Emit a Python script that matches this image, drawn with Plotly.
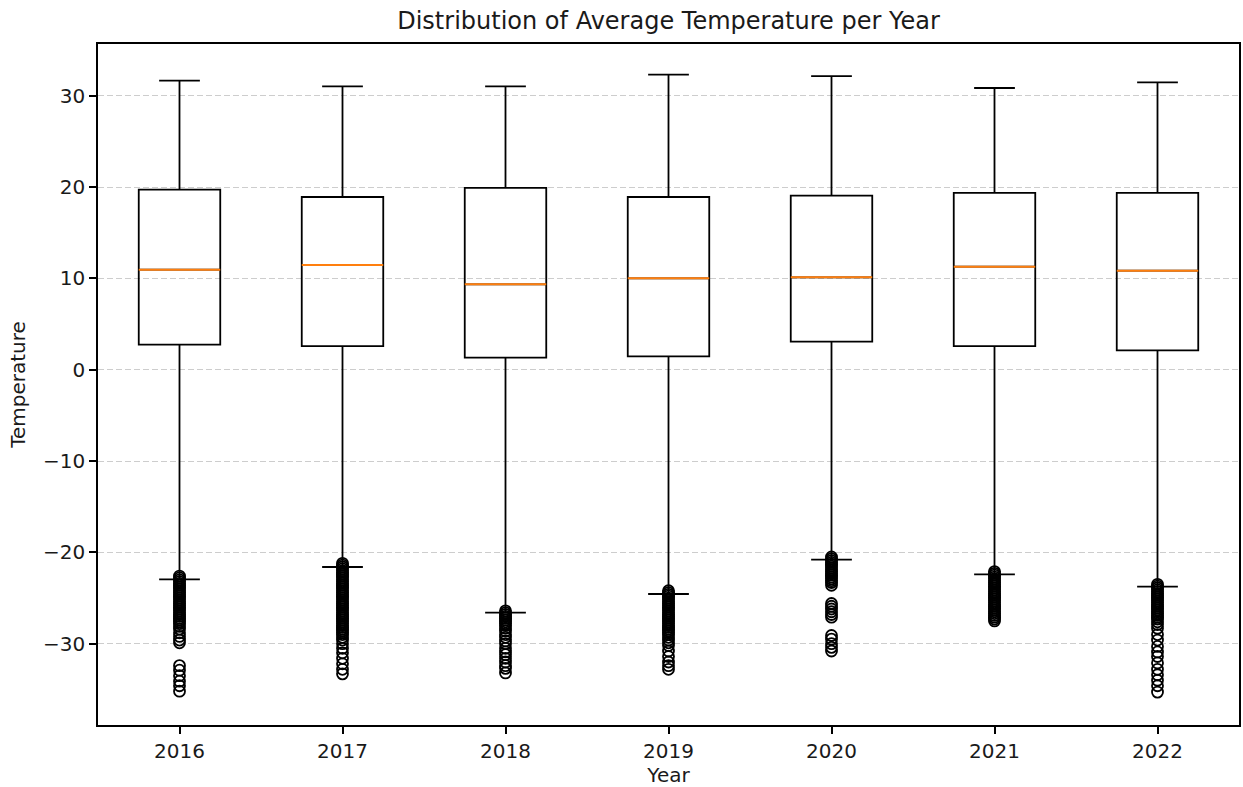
import plotly.graph_objects as go

years = ["2016", "2017", "2018", "2019", "2020", "2021", "2022"]
positions = [1, 2, 3, 4, 5, 6, 7]

q1 = [2.74, 2.59, 1.32, 1.46, 3.07, 2.59, 2.12]
median = [10.95, 11.46, 9.35, 10.0, 10.11, 11.28, 10.84]
q3 = [19.71, 18.91, 19.9, 18.91, 19.05, 19.35, 19.35]
upper_whisker = [31.64, 31.03, 31.03, 32.3, 32.15, 30.84, 31.46]
lower_whisker = [-22.95, -21.6, -26.6, -24.56, -20.8, -22.4, -23.76]

outliers_2016 = [-22.6, -22.8, -23.0, -23.2, -23.4, -23.6, -23.8, -24.0, -24.2, -24.4,
                 -24.6, -24.8, -25.0, -25.2, -25.4, -25.6, -25.8, -26.0, -26.2, -26.4,
                 -26.6, -26.8, -27.0, -27.2, -27.4, -27.6, -27.8, -28.1, -28.4, -28.8,
                 -29.2, -29.6, -29.9, -32.4, -32.9, -33.5, -34.1, -34.6, -35.2]
outliers_2017 = [-21.2, -21.4, -21.6, -21.8, -22.0, -22.2, -22.4, -22.6, -22.8, -23.0,
                 -23.2, -23.4, -23.6, -23.8, -24.0, -24.2, -24.4, -24.6, -24.8, -25.0,
                 -25.2, -25.4, -25.6, -25.8, -26.0, -26.2, -26.4, -26.6, -26.8, -27.0,
                 -27.2, -27.4, -27.6, -27.8, -28.0, -28.2, -28.4, -28.6, -28.8, -29.0,
                 -29.3, -29.6, -30.0, -30.5, -31.0, -31.6, -32.2, -32.8, -33.3]
outliers_2018 = [-26.4, -26.6, -26.8, -27.0, -27.2, -27.4, -27.6, -27.8, -28.0, -28.3,
                 -28.6, -29.0, -29.3, -29.7, -30.0, -30.5, -30.9, -31.2, -31.6, -32.0,
                 -32.4, -32.7, -33.2]
outliers_2019 = [-24.2, -24.4, -24.6, -24.8, -25.0, -25.2, -25.4, -25.6, -25.8, -26.0,
                 -26.2, -26.4, -26.6, -26.8, -27.0, -27.2, -27.4, -27.6, -27.8, -28.0,
                 -28.2, -28.4, -28.6, -28.8, -29.0, -29.3, -29.6, -29.9, -30.2, -30.8,
                 -31.4, -32.0, -32.4, -32.8]
outliers_2020 = [-20.5, -20.7, -20.9, -21.1, -21.3, -21.5, -21.7, -21.9, -22.1, -22.3,
                 -22.5, -22.7, -22.9, -23.1, -23.3, -23.6, -25.6, -25.9, -26.2, -26.5,
                 -26.8, -27.1, -29.1, -29.5, -30.0, -30.4, -30.8]
outliers_2021 = [-22.1, -22.3, -22.5, -22.7, -22.9, -23.1, -23.3, -23.5, -23.7, -23.9,
                 -24.1, -24.3, -24.5, -24.7, -24.9, -25.1, -25.3, -25.5, -25.7, -25.9,
                 -26.1, -26.3, -26.5, -26.7, -26.9, -27.1, -27.3, -27.5]
outliers_2022 = [-23.5, -23.7, -23.9, -24.1, -24.3, -24.5, -24.7, -24.9, -25.1, -25.3,
                 -25.5, -25.7, -25.9, -26.1, -26.3, -26.5, -26.7, -26.9, -27.1, -27.3,
                 -27.6, -27.9, -28.3, -29.0, -29.6, -30.3, -30.9, -31.4, -32.1, -32.8,
                 -33.4, -34.0, -34.6, -35.3]

outliers = [outliers_2016, outliers_2017, outliers_2018, outliers_2019,
            outliers_2020, outliers_2021, outliers_2022]

FONT = "DejaVu Sans"
TXT = "#1a1a1a"

fig = go.Figure()

fig.add_trace(go.Box(
    x=positions, q1=q1, median=median, q3=q3,
    lowerfence=lower_whisker, upperfence=upper_whisker,
    width=0.5, whiskerwidth=0.5, boxpoints=False,
    line=dict(color="black", width=1.8),
    fillcolor="rgba(0,0,0,0)", hoverinfo="skip", showlegend=False,
))

# orange median lines
fig.add_trace(go.Box(
    x=positions, q1=median, median=median, q3=median,
    lowerfence=median, upperfence=median,
    width=0.5, whiskerwidth=0, boxpoints=False,
    line=dict(color="#ff7f0e", width=2),
    fillcolor="rgba(0,0,0,0)", hoverinfo="skip", showlegend=False,
))

ox, oy = [], []
for p, vals in zip(positions, outliers):
    ox += [p] * len(vals)
    oy += vals

fig.add_trace(go.Scatter(
    x=ox, y=oy, mode="markers",
    marker=dict(symbol="circle-open", size=11, color="black", line=dict(width=1.8)),
    hoverinfo="skip", showlegend=False,
))

fig.update_layout(
    width=1243, height=787,
    margin=dict(l=98, r=2, t=44, b=62),
    paper_bgcolor="white", plot_bgcolor="white",
    font=dict(family=FONT, size=20, color=TXT),
    title=dict(text="Distribution of Average Temperature per Year",
               x=0.5, xref="paper", y=1 - 21 / 787, yref="container",
               xanchor="center", yanchor="middle",
               font=dict(family=FONT, size=24, color=TXT)),
    boxmode="overlay",
    showlegend=False,
)

fig.update_xaxes(
    range=[0.5, 7.5], tickmode="array", tickvals=positions, ticktext=years,
    showgrid=False, zeroline=False,
    showline=True, mirror=True, linecolor="black", linewidth=1.6,
    ticks="outside", ticklen=7, tickcolor="black", tickwidth=1.6,
    tickfont=dict(family=FONT, size=20, color=TXT),
    title=dict(text="Year", standoff=4, font=dict(family=FONT, size=20, color=TXT)),
)
fig.update_yaxes(
    range=[-38.9, 35.66], tickmode="linear", tick0=0, dtick=10,
    showgrid=True, gridcolor="#cdcdcd", griddash="6px,3px", gridwidth=1.3,
    zeroline=False,
    showline=True, mirror=True, linecolor="black", linewidth=1.6,
    ticks="outside", ticklen=7, tickcolor="black", tickwidth=1.6,
    tickfont=dict(family=FONT, size=20, color=TXT),
    title=dict(text="Temperature", standoff=12, font=dict(family=FONT, size=20, color=TXT)),
)

fig.write_html("out.html")
